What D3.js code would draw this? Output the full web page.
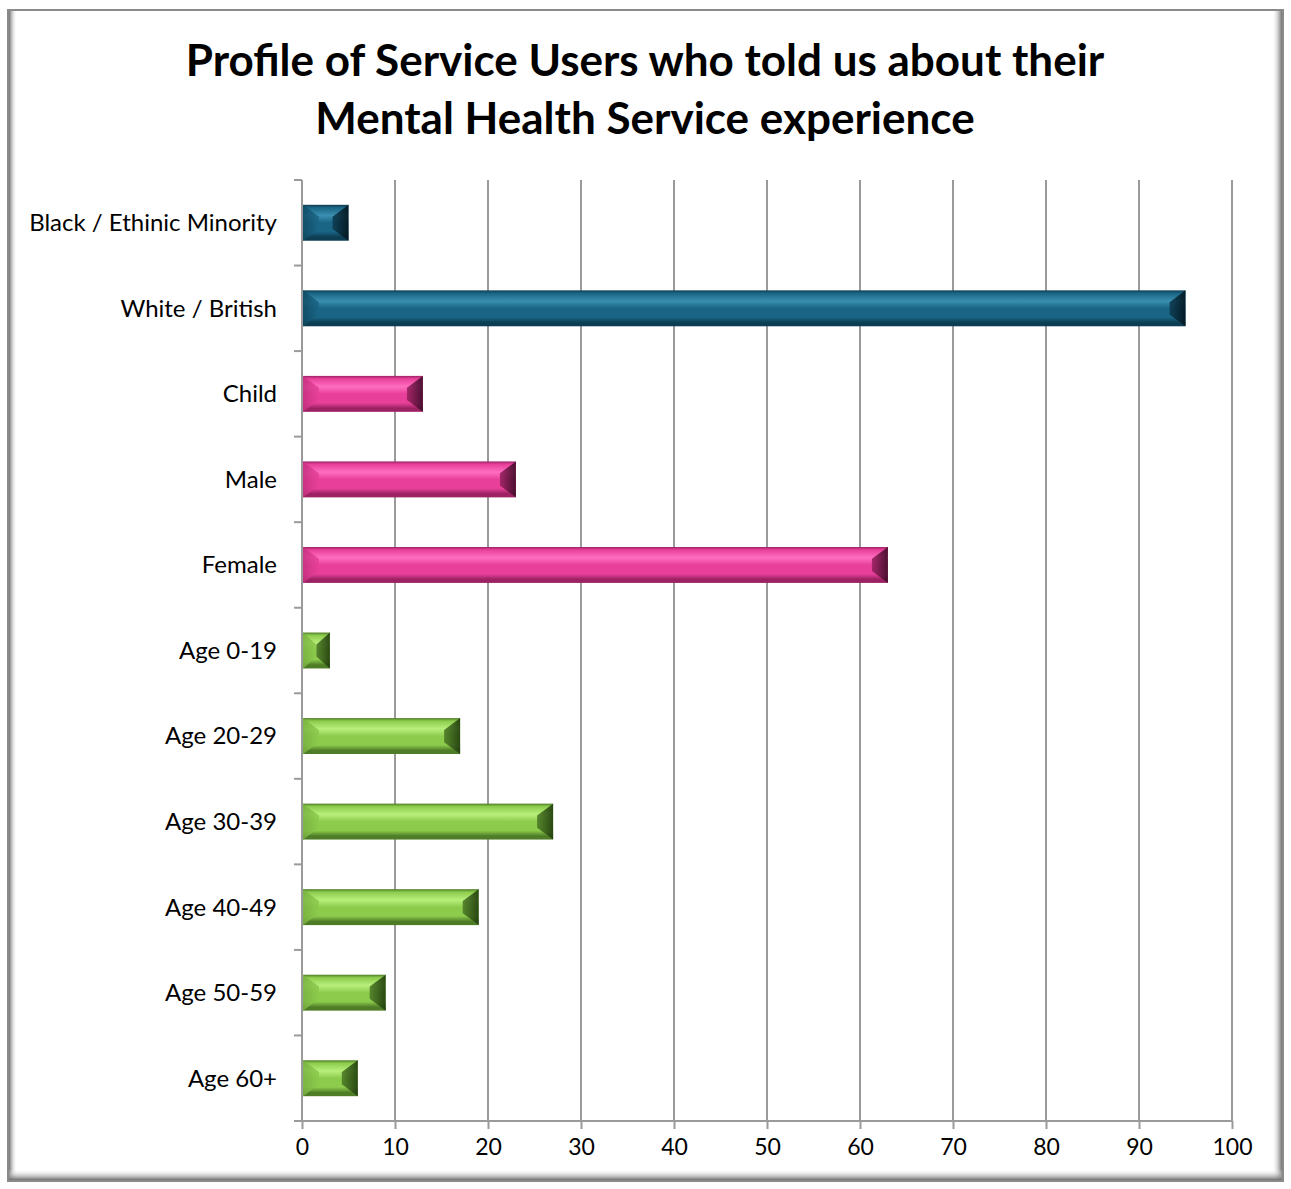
<!DOCTYPE html>
<html>
<head>
<meta charset="utf-8">
<title>Mental Health Service profile</title>
<script src="https://cdn.jsdelivr.net/npm/d3@7/dist/d3.min.js"></script>
<style>
  body { margin: 0; background: #fff; }
  text { font-family: Lato, "Open Sans", sans-serif; }
</style>
</head>
<body>
<div id="chart"></div>
<script>
// categories, top to bottom
const categories = ["Black / Ethinic Minority", "White / British", "Child", "Male", "Female",
  "Age 0-19", "Age 20-29", "Age 30-39", "Age 40-49", "Age 50-59", "Age 60+"];
const values = [5, 95, 13, 23, 63, 3, 17, 27, 19, 9, 6];
const groups = ["ethnic", "ethnic", "gender", "gender", "gender",
  "age", "age", "age", "age", "age", "age"];
const xTicks = [0, 10, 20, 30, 40, 50, 60, 70, 80, 90, 100];
const titleLines = ["Profile of Service Users who told us about their", "Mental Health Service experience"];

const width = 1291, height = 1189;
const plot = { left: 302, right: 1232, top: 180, bottom: 1121 };

// colours per group: dark edge, mid, highlight
const palette = {
  ethnic: { dark: "#0d3d52", mid: "#1a6585", light: "#3a8fb0", side: "#0f4a63", sideR: "#03131b" },
  gender: { dark: "#9c2263", mid: "#e8409a", light: "#ff6ec0", side: "#c5307f", sideR: "#3a0a24" },
  age:    { dark: "#4f7d27", mid: "#8ccb4c", light: "#b8ef7c", side: "#78b140", sideR: "#1f3a0c" }
};

const svg = d3.select("#chart").append("svg")
  .attr("width", width).attr("height", height);
const defs = svg.append("defs");

// frame with inner shadow
svg.append("rect").attr("x", 8).attr("y", 10).attr("width", 1275).attr("height", 1171)
  .attr("fill", "#fff").attr("stroke", "#8a8a8a").attr("stroke-width", 2);

function lin(id, x1, y1, x2, y2, stops) {
  const g = defs.append("linearGradient").attr("id", id)
    .attr("x1", x1).attr("y1", y1).attr("x2", x2).attr("y2", y2);
  stops.forEach(s => g.append("stop").attr("offset", s[0]).attr("stop-color", s[1]).attr("stop-opacity", s[2] ?? 1));
}
lin("shL", 0, 0, 1, 0, [[0, "#6f6f6f"], [1, "#fff", 0]]);
lin("shR", 1, 0, 0, 0, [[0, "#6f6f6f"], [1, "#fff", 0]]);
lin("shB", 0, 1, 0, 0, [[0, "#6f6f6f"], [1, "#fff", 0]]);
svg.append("rect").attr("x", 9).attr("y", 11).attr("width", 8).attr("height", 1169).attr("fill", "url(#shL)");
svg.append("rect").attr("x", 1272).attr("y", 11).attr("width", 10).attr("height", 1169).attr("fill", "url(#shR)");
svg.append("rect").attr("x", 9).attr("y", 1169).attr("width", 1273).attr("height", 11).attr("fill", "url(#shB)");

// title
svg.append("g").selectAll("text").data(titleLines).enter().append("text")
  .attr("x", 645).attr("y", (d, i) => 76 + i * 58)
  .attr("text-anchor", "middle")
  .attr("font-size", 44).attr("font-weight", "bold").attr("fill", "#000")
  .text(d => d);

const x = d3.scaleLinear().domain([0, 100]).range([plot.left, plot.right]);
const y = d3.scaleBand().domain(categories).range([plot.top, plot.bottom]).paddingInner(0.58).paddingOuter(0.29);

// gridlines
svg.append("g").selectAll("line").data(xTicks.slice(1)).enter().append("line")
  .attr("x1", d => x(d)).attr("x2", d => x(d))
  .attr("y1", plot.top).attr("y2", plot.bottom)
  .attr("stroke", "#9a9a9a").attr("stroke-width", 2);

// axes
const xAxis = svg.append("g").attr("transform", `translate(0,${plot.bottom})`)
  .call(d3.axisBottom(x).tickValues(xTicks).tickSize(8).tickPadding(10));
xAxis.select(".domain").remove();
xAxis.append("line").attr("x1", plot.left - 8).attr("x2", plot.right).attr("stroke", "#9a9a9a").attr("stroke-width", 2);
xAxis.selectAll(".tick line").attr("stroke", "#9a9a9a").attr("stroke-width", 2);
xAxis.selectAll(".tick text").attr("font-size", 23).attr("fill", "#000")
  .style("font-family", "Lato, sans-serif");

const bandStep = y.step();
const yTicks = d3.range(categories.length + 1).map(i => plot.top + i * bandStep);
svg.append("line").attr("x1", plot.left).attr("x2", plot.left)
  .attr("y1", plot.top).attr("y2", plot.bottom)
  .attr("stroke", "#9a9a9a").attr("stroke-width", 2);
svg.append("g").selectAll("line").data(yTicks.slice(0, -1)).enter().append("line")
  .attr("x1", plot.left - 8).attr("x2", plot.left)
  .attr("y1", d => d).attr("y2", d => d)
  .attr("stroke", "#9a9a9a").attr("stroke-width", 2);

svg.append("g").selectAll("text").data(categories).enter().append("text")
  .attr("x", 277).attr("y", d => y(d) + y.bandwidth() / 2)
  .attr("dy", "0.35em").attr("text-anchor", "end")
  .attr("font-size", 24).attr("fill", "#000")
  .text(d => d);

// bevel gradients
Object.entries(palette).forEach(([k, c]) => {
  lin("face-" + k, 0, 0, 0, 1, [[0, c.dark], [0.08, c.mid], [0.3, c.light], [0.5, c.mid], [0.75, c.mid], [0.9, c.dark], [1, c.dark]]);
  lin("left-" + k, 0, 0, 1, 0, [[0, c.side], [1, c.mid]]);
  lin("right-" + k, 1, 0, 0, 0, [[0, c.sideR], [1, c.dark]]);
});

const bars = svg.append("g").selectAll("g").data(categories).enter().append("g");
bars.each(function (d, i) {
  const g = d3.select(this);
  const k = groups[i];
  const x0 = x(0) + 1, x1 = x(values[i]);
  const y0 = y(d), y1 = y(d) + y.bandwidth();
  const h = y1 - y0, w = x1 - x0;
  const dx = Math.min(16, w / 2), dy = h * 0.33;
  g.append("rect").attr("x", x0).attr("y", y0).attr("width", w).attr("height", h)
    .attr("fill", `url(#face-${k})`);
  g.append("polygon")
    .attr("points", [[x0, y0], [x0 + dx, y0 + dy], [x0 + dx, y1 - dy], [x0, y1]].join(" "))
    .attr("fill", `url(#left-${k})`).attr("opacity", 0.85);
  g.append("polygon")
    .attr("points", [[x1, y0], [x1 - dx, y0 + dy], [x1 - dx, y1 - dy], [x1, y1]].join(" "))
    .attr("fill", `url(#right-${k})`).attr("opacity", 0.9);
});
</script>
</body>
</html>
